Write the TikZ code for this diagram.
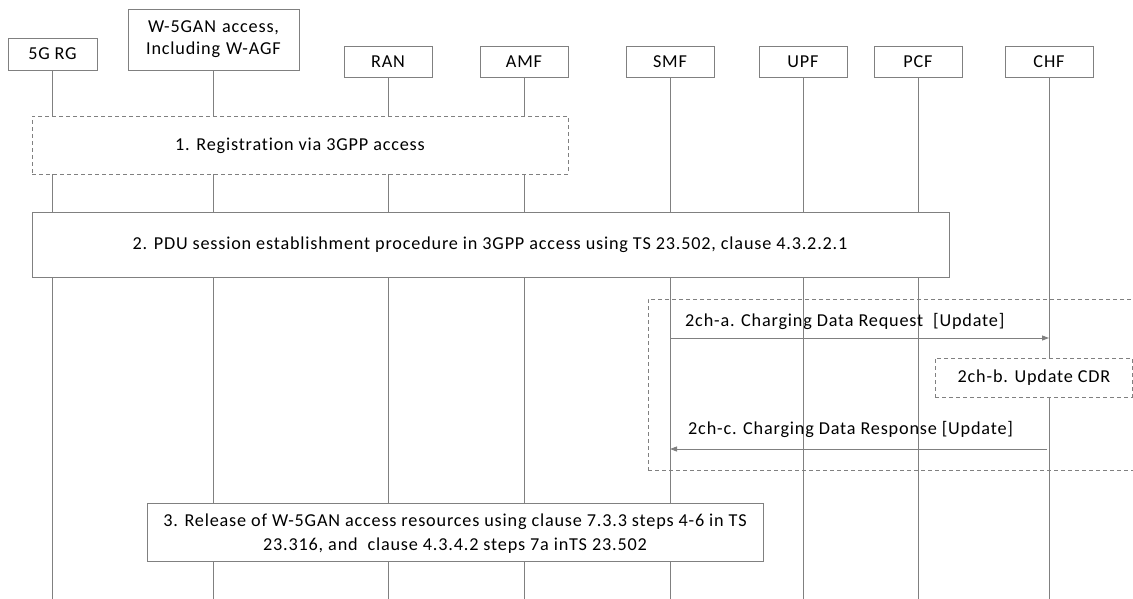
\documentclass[tikz,border=0pt]{standalone}
\usepackage{fontspec}
\setmainfont[LetterSpace=4.5,RawFeature={-liga;-clig;-dlig;-calt}]{Carlito}
\usetikzlibrary{arrows.meta}
\definecolor{lc}{HTML}{808080}
\begin{document}
\begin{tikzpicture}[x=1pt,y=-1pt,
  every node/.style={font=\fontsize{18.2}{22}\selectfont, text=black, inner sep=0pt},
  ent/.style={draw=lc, line width=0.9pt, fill=white, minimum height=31pt, minimum width=88pt, align=center},
  life/.style={draw=lc, line width=0.9pt},
  solidbox/.style={draw=lc, line width=0.9pt, fill=white},
  dashbox/.style={draw=lc, line width=0.9pt, dash pattern=on 4pt off 3pt},
  msg/.style={draw=lc, line width=0.9pt, -{Triangle[length=7pt,width=5pt]}},
  lbl/.style={anchor=west}
]
\useasboundingbox (0,0) rectangle (1133,598);
\clip (0,0) rectangle (1133,598);

% entities
\node[ent, minimum width=89pt, minimum height=32pt] (rg) at (52.5,54) {5G RG};
\node[ent, minimum width=171pt, minimum height=61pt, text width=165pt] (wagf) at (213.5,39.5) {W-5GAN access,\\Including W-AGF};
\node[ent] (ran) at (388,61.5) {RAN};
\node[ent] (amf) at (524,61.5) {AMF};
\node[ent] (smf) at (670,61.5) {SMF};
\node[ent] (upf) at (803,61.5) {UPF};
\node[ent] (pcf) at (918,61.5) {PCF};
\node[ent] (chf) at (1049,61.5) {CHF};

% lifeline ends
\coordinate (rgE) at (52.5,600);
\coordinate (wagfE) at (213.5,600);
\coordinate (ranE) at (388,600);
\coordinate (amfE) at (524,600);
\coordinate (smfE) at (670,600);
\coordinate (upfE) at (803,600);
\coordinate (pcfE) at (918,600);
\coordinate (chfE) at (1049,600);

\foreach \n in {rg,wagf,ran,amf,smf,upf,pcf,chf}
  \draw[life] (\n.south) -- (\n E);

% step 1
\node[dashbox, fill=white, minimum width=536pt, minimum height=58pt] (s1) at (300,145) {};
\node (s1t) at (300,146) {1. Registration via 3GPP access};

% step 2
\node[solidbox, minimum width=917pt, minimum height=65pt] (s2) at (490.5,244.5) {};
\node (s2t) at (490,245) {2. PDU session establishment procedure in 3GPP access using TS 23.502, clause 4.3.2.2.1};

% charging block
\node[dashbox, minimum width=492pt, minimum height=171pt] (ch) at (894,384.5) {};

\coordinate (a1) at (670,338);
\coordinate (a2) at (1049,338);
\draw[msg] (a1) -- (a2);
\node[lbl] (lA) at (685,321) {2ch-a. Charging Data Request~~[Update]};

\node[dashbox, fill=white, minimum width=197pt, minimum height=39pt] (chb) at (1033.5,377.5) {};
\node (chbt) at (1034,378) {2ch-b. Update CDR};

\coordinate (c1) at (1047,449);
\coordinate (c2) at (670,449);
\draw[msg] (c1) -- (c2);
\node[lbl] (lC) at (688,429) {2ch-c. Charging Data Response [Update]};

% step 3
\node[solidbox, minimum width=616pt, minimum height=58pt] (s3) at (455,532) {};
\node[align=center, font=\fontsize{18.2}{24}\selectfont] (s3t) at (455,534) {3. Release of W-5GAN access resources using clause 7.3.3 steps 4-6 in TS\\23.316, and~~clause 4.3.4.2 steps 7a inTS 23.502};
\end{tikzpicture}
\end{document}
